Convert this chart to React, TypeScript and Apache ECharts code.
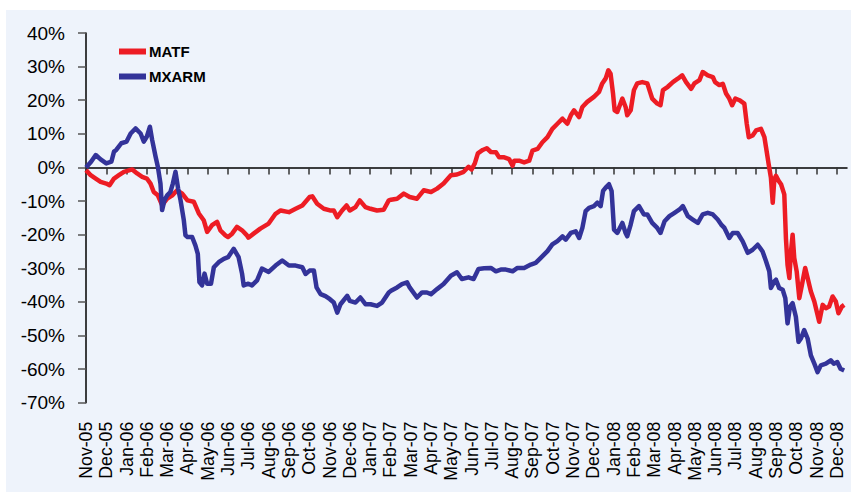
import React, { useEffect, useRef } from "react";
import * as echarts from "echarts";

// Month tick labels (position 0 = Nov-05, one unit per month)
const monthLabels = [
  "Nov-05", "Dec-05", "Jan-06", "Feb-06", "Mar-06", "Apr-06", "May-06", "Jun-06", "Jul-06",
  "Aug-06", "Sep-06", "Oct-06", "Nov-06", "Dec-06", "Jan-07", "Feb-07", "Mar-07", "Apr-07",
  "May-07", "Jun-07", "Jul-07", "Aug-07", "Sep-07", "Oct-07", "Nov-07", "Dec-07", "Jan-08",
  "Feb-08", "Mar-08", "Apr-08", "May-08", "Jun-08", "Jul-08", "Aug-08", "Sep-08", "Oct-08",
  "Nov-08", "Dec-08",
];

const yTickValues = [-70, -60, -50, -40, -30, -20, -10, 0, 10, 20, 30, 40];

// [month position, cumulative return %]
const matf: [number, number][] = [
  [0.00,-0.8],[0.23,-2.3],[0.48,-3.3],[0.72,-4.3],[1.00,-4.8],[1.16,-5.3],[1.38,-3.3],[1.62,-2.3],[1.87,-1.3],[2.28,-0.6],[2.52,-1.8],[2.77,-2.8],[3.00,-3.3],[3.18,-4.8],[3.34,-7.3],[3.54,-8.3],[3.75,-11.2],[4.00,-9.3],[4.25,-8.3],[4.49,-6.8],[4.74,-7.8],[5.00,-9.8],[5.31,-10.2],[5.56,-13.7],[5.80,-15.7],[5.97,-19.2],[6.21,-17.2],[6.46,-16.2],[6.62,-18.7],[6.87,-20.2],[7.00,-20.7],[7.20,-19.7],[7.44,-17.7],[7.69,-18.7],[7.93,-20.2],[8.00,-20.9],[8.26,-19.7],[8.59,-18.2],[9.00,-16.7],[9.34,-13.8],[9.59,-12.8],[10.00,-13.3],[10.33,-12.3],[10.66,-11.3],[11.02,-8.8],[11.15,-8.6],[11.39,-10.8],[11.72,-12.3],[12.02,-12.8],[12.21,-12.8],[12.38,-14.8],[12.62,-12.8],[12.84,-11.3],[13.00,-12.8],[13.28,-11.8],[13.49,-9.8],[13.77,-11.8],[14.02,-12.3],[14.34,-12.8],[14.67,-12.6],[14.92,-9.8],[15.03,-9.6],[15.33,-9.3],[15.66,-7.8],[15.95,-8.8],[16.31,-9.3],[16.64,-6.8],[17.00,-7.3],[17.30,-6.3],[17.62,-4.8],[17.98,-2.3],[18.28,-2.1],[18.61,-1.3],[18.85,0.2],[19.00,-0.6],[19.16,1.2],[19.31,4.2],[19.55,5.2],[19.75,5.7],[19.95,4.6],[20.20,4.5],[20.36,3.0],[20.61,3.0],[20.85,2.5],[21.02,0.5],[21.10,2.0],[21.34,2.0],[21.59,1.5],[21.84,2.0],[22.00,5.0],[22.25,5.5],[22.49,7.5],[22.74,9.0],[22.98,11.5],[23.23,13.0],[23.48,14.5],[23.72,13.0],[23.89,15.5],[24.05,17.0],[24.30,15.0],[24.46,18.0],[24.70,19.5],[25.03,21.0],[25.28,22.5],[25.44,25.0],[25.61,26.5],[25.74,28.9],[25.85,27.9],[25.97,22.0],[26.05,17.0],[26.18,16.5],[26.43,20.5],[26.59,18.0],[26.67,15.5],[26.84,17.0],[27.00,23.0],[27.16,25.0],[27.41,25.4],[27.66,25.0],[27.90,20.5],[28.15,19.0],[28.31,18.5],[28.43,23.0],[28.67,24.0],[28.92,25.4],[29.16,26.4],[29.38,27.4],[29.57,25.4],[29.82,23.4],[29.98,25.0],[30.23,26.0],[30.39,28.4],[30.64,27.4],[30.89,26.9],[31.00,25.4],[31.21,24.5],[31.38,24.9],[31.54,22.0],[31.70,20.5],[31.84,18.5],[32.00,20.5],[32.20,20.0],[32.44,19.0],[32.56,13.0],[32.66,9.0],[32.85,9.5],[33.02,11.0],[33.26,11.5],[33.43,9.0],[33.51,6.0],[33.64,1.0],[33.75,-3.0],[33.84,-10.5],[33.92,-3.5],[34.00,-2.5],[34.13,-4.0],[34.25,-5.0],[34.41,-8.0],[34.49,-21.0],[34.57,-29.0],[34.66,-32.9],[34.74,-25.0],[34.82,-20.0],[34.90,-26.9],[35.02,-30.9],[35.15,-38.9],[35.28,-34.9],[35.44,-29.9],[35.56,-32.9],[35.72,-36.9],[35.89,-39.9],[36.05,-43.9],[36.13,-45.9],[36.30,-40.9],[36.46,-41.9],[36.62,-41.4],[36.79,-38.4],[36.95,-39.9],[37.08,-43.4],[37.25,-41.4],[37.36,-40.9],
];

const mxarm: [number, number][] = [
  [0.00,0],[0.25,1.7],[0.48,3.7],[0.72,2.4],[1.00,1.2],[1.25,1.7],[1.38,4.7],[1.49,5.2],[1.74,7.2],[2.00,7.7],[2.20,10.1],[2.44,11.6],[2.69,10.1],[2.85,7.7],[3.00,9.2],[3.15,12.1],[3.26,8.2],[3.43,3.2],[3.54,0.2],[3.67,-4.8],[3.75,-12.7],[3.87,-9.7],[4.00,-8.3],[4.16,-7.3],[4.28,-4.8],[4.41,-1.3],[4.54,-6.3],[4.66,-9.8],[4.82,-15.7],[4.90,-20.2],[5.00,-20.7],[5.23,-20.7],[5.39,-23.2],[5.51,-25.7],[5.59,-34.1],[5.72,-35.1],[5.84,-31.6],[5.97,-34.6],[6.16,-34.6],[6.30,-29.7],[6.54,-28.2],[6.79,-27.2],[7.00,-26.7],[7.28,-24.2],[7.52,-26.7],[7.69,-31.6],[7.77,-35.1],[8.00,-34.6],[8.18,-35.1],[8.43,-33.6],[8.67,-30.1],[9.00,-31.1],[9.34,-29.2],[9.67,-27.7],[10.00,-29.2],[10.33,-29.2],[10.66,-29.7],[10.82,-31.7],[11.02,-30.7],[11.23,-30.7],[11.36,-35.7],[11.56,-37.7],[11.80,-38.3],[12.02,-39.2],[12.21,-40.2],[12.38,-43.2],[12.54,-40.7],[12.87,-38.2],[13.00,-39.7],[13.28,-40.2],[13.52,-38.7],[13.77,-40.7],[14.02,-40.7],[14.34,-41.2],[14.59,-40.2],[14.92,-37.2],[15.03,-36.7],[15.33,-35.7],[15.57,-34.7],[15.82,-34.2],[15.95,-35.7],[16.31,-38.7],[16.56,-37.2],[16.80,-37.2],[17.00,-37.7],[17.30,-36.2],[17.62,-34.7],[17.98,-32.2],[18.28,-31.2],[18.52,-33.2],[18.85,-32.7],[19.10,-33.2],[19.34,-30.2],[19.62,-30.0],[19.95,-29.9],[20.20,-30.9],[20.44,-30.4],[20.69,-30.4],[21.02,-30.9],[21.26,-29.9],[21.59,-29.9],[21.92,-28.9],[22.16,-28.4],[22.41,-26.9],[22.74,-24.9],[22.98,-22.9],[23.23,-21.9],[23.48,-20.5],[23.64,-21.5],[23.89,-19.5],[24.13,-19.0],[24.30,-21.0],[24.46,-18.0],[24.62,-13.0],[24.79,-12.0],[25.03,-11.5],[25.20,-10.5],[25.36,-11.5],[25.48,-7.0],[25.61,-6.0],[25.77,-5.0],[25.90,-7.0],[26.02,-18.5],[26.18,-19.5],[26.43,-16.5],[26.59,-19.5],[26.67,-20.5],[26.84,-17.0],[27.00,-13.0],[27.25,-11.5],[27.49,-14.0],[27.66,-14.0],[27.90,-16.5],[28.15,-18.0],[28.31,-19.5],[28.51,-16.0],[28.75,-14.5],[29.00,-13.5],[29.25,-12.5],[29.41,-11.5],[29.66,-14.5],[29.90,-15.5],[30.15,-16.5],[30.39,-14.0],[30.64,-13.5],[30.89,-14.0],[31.13,-15.5],[31.30,-17.0],[31.46,-18.0],[31.70,-21.0],[31.87,-19.5],[32.11,-19.5],[32.36,-22.0],[32.61,-25.4],[32.85,-24.5],[33.10,-23.0],[33.34,-25.0],[33.51,-27.9],[33.67,-30.9],[33.75,-35.9],[33.92,-33.9],[34.00,-33.4],[34.16,-35.9],[34.33,-36.4],[34.46,-38.9],[34.57,-46.4],[34.69,-41.4],[34.82,-40.4],[34.98,-44.4],[35.11,-51.9],[35.23,-50.9],[35.39,-48.4],[35.56,-50.9],[35.72,-55.9],[35.89,-58.4],[36.05,-60.9],[36.21,-58.9],[36.46,-58.4],[36.70,-57.4],[36.85,-58.4],[37.02,-57.9],[37.18,-59.9],[37.36,-60.4],
];

const seriesNames = ["MATF", "MXARM"];
const seriesColors = ["#ED1C24", "#333399"];

const FONT = "'Liberation Sans', Arial, sans-serif";

export default function App() {
  const ref = useRef<HTMLDivElement>(null);

  useEffect(() => {
    if (!ref.current) return;
    const chart = echarts.init(ref.current, null, { renderer: "svg" });
    const monthPositions = monthLabels.map((_, i) => i);
    chart.setOption({
      animation: false,
      backgroundColor: "#EEF3FB",
      textStyle: { fontFamily: FONT },
      grid: {
        left: 80,
        right: 4,
        top: 23,
        bottom: 89.3,
        containLabel: false,
        outerBoundsMode: "none",
      },
      legend: {
        orient: "vertical",
        left: 108,
        top: 29,
        itemWidth: 27,
        itemHeight: 6,
        itemGap: 10,
        icon: "rect",
        data: seriesNames,
        textStyle: {
          fontFamily: FONT,
          fontSize: 15,
          fontWeight: "bold",
          color: "#000",
          padding: [0, 0, 0, -2],
        },
      },
      xAxis: [
        {
          type: "value",
          min: 0,
          max: 37.5,
          interval: 1,
          position: "bottom",
          axisLine: { show: false, onZero: false },
          axisTick: { show: false },
          splitLine: { show: false },
          axisLabel: {
            customValues: monthPositions,
            rotate: 90,
            margin: 19,
            fontSize: 17.7,
            fontFamily: FONT,
            color: "#000",
            showMinLabel: true,
            showMaxLabel: true,
            formatter: (v: number) =>
              Number.isInteger(v) && monthLabels[v] ? monthLabels[v] : "",
          },
        },
        {
          type: "value",
          min: 0,
          max: 37.5,
          interval: 1,
          position: "bottom",
          axisLine: {
            show: true,
            onZero: true,
            onZeroAxisIndex: 0,
            lineStyle: { color: "#000", width: 1.5 },
          },
          axisTick: {
            show: true,
            customValues: monthPositions,
            length: 7,
            lineStyle: { color: "#333", width: 1.5 },
          },
          axisLabel: { show: false },
          splitLine: { show: false },
        },
      ],
      yAxis: {
        type: "value",
        min: -70,
        max: 40,
        interval: 10,
        axisLine: {
          show: true,
          onZero: false,
          lineStyle: { color: "#000", width: 1.5 },
        },
        axisTick: {
          show: true,
          length: 8,
          customValues: yTickValues,
          lineStyle: { color: "#555", width: 1.5 },
        },
        splitLine: { show: false },
        axisLabel: {
          margin: 21,
          fontSize: 19,
          fontFamily: FONT,
          color: "#000",
          padding: [7, 0, 0, 0],
          formatter: (v: number) => `${v}%`,
        },
      },
      series: [
        {
          name: seriesNames[0],
          type: "line",
          xAxisIndex: 0,
          data: matf,
          showSymbol: false,
          symbol: "none",
          color: seriesColors[0],
          lineStyle: { color: seriesColors[0], width: 4.5, join: "round" },
        },
        {
          name: seriesNames[1],
          type: "line",
          xAxisIndex: 0,
          data: mxarm,
          showSymbol: false,
          symbol: "none",
          color: seriesColors[1],
          lineStyle: { color: seriesColors[1], width: 4.5, join: "round" },
        },
      ],
    });
    return () => chart.dispose();
  }, []);

  return (
    <div
      style={{
        position: "absolute",
        left: 6,
        top: 10,
        width: 845,
        height: 482,
      }}
    >
      <div ref={ref} style={{ width: 845, height: 482 }} />
    </div>
  );
}
